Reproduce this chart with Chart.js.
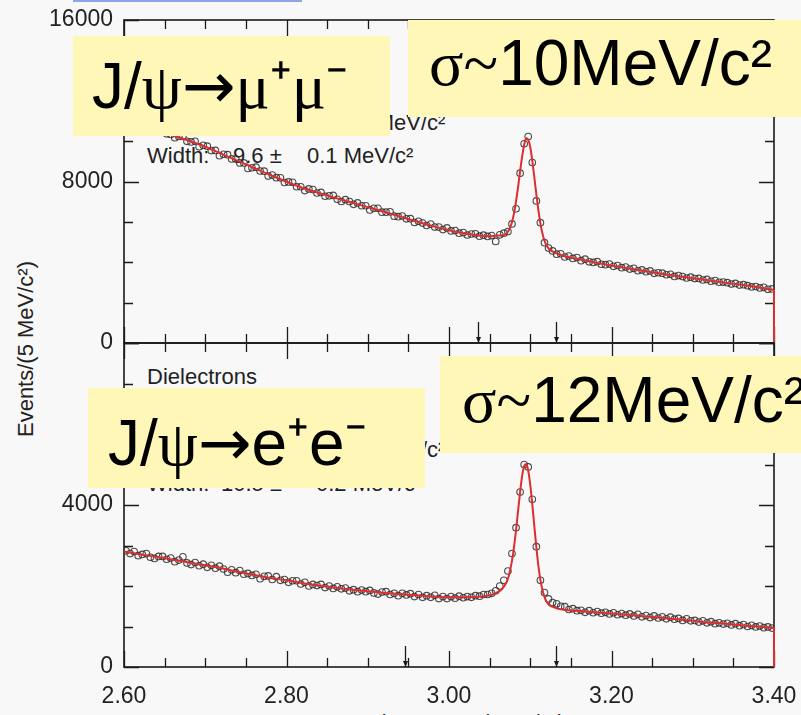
<!DOCTYPE html>
<html>
<head>
<meta charset="utf-8">
<script src="https://cdn.jsdelivr.net/npm/chart.js@4.4.0/dist/chart.umd.min.js"></script>
<style>
  html, body { margin: 0; padding: 0; }
  body {
    width: 801px; height: 715px; overflow: hidden; position: relative;
    background: #f8f8f8;
    font-family: "Liberation Sans", Arial, sans-serif;
  }
  canvas { position: absolute; left: 0; top: 0; z-index: 1; }
  .note { position: absolute; z-index: 0; font-size: 22px; line-height: 22px; color: #222; white-space: pre; }
  .ytitle {
    position: absolute; z-index: 0; left: -124px; top: 338px; width: 300px;
    font-size: 22px; line-height: 22px; color: #222; text-align: center;
    transform: rotate(-90deg);
  }
  .xtitle { position: absolute; left: 124px; width: 650px; top: 712px; font-size: 22px; line-height: 22px; color: #222; text-align: center; }
  .box { position: absolute; z-index: 2; background: #fff7b7; }
  .big { position: absolute; z-index: 3; font-size: 64px; line-height: 64px; color: #000; white-space: nowrap; }
  .gr { font-family: "Liberation Serif", "DejaVu Serif", serif; }
  .arr { font-family: "DejaVu Sans", sans-serif; }
  .link { position: absolute; left: 73px; top: 0; width: 229px; height: 2px; background: #8fa6e6; }
</style>
</head>
<body>
<div class="link"></div>

<!-- fit results printed inside the panels -->
<div class="note" style="left:147px;top:112px">Mass:</div>
<div class="note" style="left:210px;top:112px">3096.9 ±</div>
<div class="note" style="left:339px;top:112px">0.1 MeV/c²</div>
<div class="note" style="left:147px;top:145px">Width:</div>
<div class="note" style="left:233px;top:145px">9.6 ±</div>
<div class="note" style="left:307px;top:145px">0.1 MeV/c²</div>

<div class="note" style="left:147px;top:366px">Dielectrons</div>
<div class="note" style="left:147px;top:439px">Mass:</div>
<div class="note" style="left:210px;top:439px">3093.7 ±</div>
<div class="note" style="left:339px;top:439px">0.1 MeV/c²</div>
<div class="note" style="left:147px;top:473px">Width:</div>
<div class="note" style="left:221px;top:473px">10.5 ±</div>
<div class="note" style="left:316px;top:473px">0.2 MeV/c²</div>

<div class="ytitle">Events/(5 MeV/c²)</div>
<div class="xtitle">Invariant Mass (GeV/c²)</div>

<canvas id="muons" width="801" height="715"></canvas>
<canvas id="electrons" width="801" height="715"></canvas>

<!-- slide annotations -->
<div class="box" style="left:73px;top:36px;width:317px;height:100px"></div>
<div class="big" style="left:92px;top:54px">J/<span class="gr">ψ</span><span class="arr">→</span><span class="gr">μ</span>⁺<span class="gr">μ</span>⁻</div>
<div class="box" style="left:408px;top:20px;width:393px;height:97px"></div>
<div class="big" style="left:429px;top:31px"><span class="gr">σ~</span>10MeV/c²</div>
<div class="box" style="left:88px;top:388px;width:337px;height:100px"></div>
<div class="big" style="left:108px;top:411px">J/<span class="gr">ψ</span><span class="arr">→</span>e⁺e⁻</div>
<div class="box" style="left:440px;top:356px;width:361px;height:97px"></div>
<div class="big" style="left:462px;top:368px"><span class="gr">σ~</span>12MeV/c²</div>

<script>
// J/psi mass spectra, 5 MeV bins from 2.60 to 3.40 GeV/c^2

const BIN_START = 2.60;
const BIN_WIDTH = 0.005;

// events per bin, dimuons (top panel)
const muonCounts = [
  11170, 11000, 11050, 10820, 10830, 10850, 10620, 10510, 10570, 10530,
  10360, 10330, 10170, 10230, 10240, 9990, 9960, 9990, 9720, 9790,
  9750, 9530, 9540, 9280, 9350, 9330, 9120, 9110, 8920, 8920,
  8650, 8680, 8710, 8520, 8510, 8270, 8320, 8190, 8180, 7950,
  7980, 7960, 7740, 7740, 7550, 7630, 7600, 7430, 7460, 7270,
  7290, 7310, 7120, 7010, 7100, 7010, 6870, 6940, 6800, 6800,
  6590, 6670, 6670, 6480, 6480, 6500, 6280, 6260, 6290, 6150,
  6160, 5970, 6030, 5940, 5820, 5890, 5740, 5740, 5620, 5700,
  5550, 5570, 5440, 5470, 5350, 5400, 5410, 5290, 5340, 5280,
  5320, 5030, 5360, 5440, 5520, 5900, 6650, 8410, 9870, 10230,
  8940, 7040, 5960, 4970, 4700, 4560, 4400, 4420, 4260, 4310,
  4190, 4230, 4080, 4150, 4020, 3990, 4030, 3900, 3880, 3910,
  3800, 3840, 3730, 3760, 3660, 3700, 3580, 3620, 3530, 3570,
  3450, 3480, 3460, 3380, 3400, 3300, 3340, 3290, 3220, 3260,
  3190, 3200, 3120, 3150, 3060, 3090, 3010, 3020, 2990, 2920,
  2950, 2870, 2890, 2840, 2780, 2800, 2730, 2760, 2660, 2680
];

// events per bin, dielectrons (bottom panel)
const electronCounts = [
  2870, 2800, 2850, 2750, 2780, 2800, 2710, 2680, 2730, 2730,
  2660, 2690, 2600, 2640, 2720, 2570, 2530, 2580, 2500, 2540,
  2460, 2510, 2440, 2490, 2420, 2340, 2400, 2330, 2380, 2290,
  2310, 2260, 2290, 2180, 2240, 2250, 2160, 2230, 2140, 2160,
  2090, 2130, 2130, 2050, 2090, 2000, 2040, 2010, 2040, 1960,
  2000, 1940, 1980, 1930, 1950, 1880, 1910, 1860, 1900, 1860,
  1890, 1830, 1800, 1850, 1860, 1790, 1820, 1760, 1820, 1780,
  1810, 1740, 1790, 1720, 1760, 1720, 1770, 1690, 1740, 1690,
  1740, 1700, 1750, 1710, 1740, 1720, 1760, 1750, 1790, 1790,
  1820, 1880, 2000, 2140, 2370, 2800, 3440, 4320, 5000, 4940,
  4140, 2970, 2140, 1840, 1680, 1590, 1560, 1500, 1490, 1420,
  1440, 1390, 1400, 1350, 1390, 1340, 1370, 1330, 1350, 1310,
  1340, 1290, 1320, 1280, 1310, 1260, 1300, 1240, 1270, 1220,
  1260, 1210, 1240, 1190, 1230, 1180, 1200, 1150, 1190, 1140,
  1150, 1110, 1140, 1090, 1120, 1070, 1090, 1060, 1080, 1040,
  1070, 1020, 1050, 1000, 1030, 990, 1010, 970, 990, 960
];

// fitted curves (red lines), sampled finer around the peak
const fitMass = [
  2.60, 2.62, 2.64, 2.66, 2.68, 2.70, 2.72, 2.74, 2.76, 2.78,
  2.80, 2.82, 2.84, 2.86, 2.88, 2.90, 2.92, 2.94, 2.96, 2.98,
  3.00, 3.02, 3.04, 3.05, 3.055, 3.06, 3.065, 3.07, 3.0725, 3.075,
  3.0775, 3.08, 3.0825, 3.085, 3.0875, 3.09, 3.0925, 3.095, 3.0975, 3.10,
  3.1025, 3.105, 3.1075, 3.11, 3.1125, 3.115, 3.1175, 3.12, 3.1225, 3.125,
  3.13, 3.135, 3.14, 3.16, 3.18, 3.20, 3.22, 3.24, 3.26, 3.28,
  3.30, 3.32, 3.34, 3.36, 3.38, 3.40
];
const muonFit = [
  11150, 10850, 10560, 10280, 10020, 9720, 9370, 9020, 8670, 8320,
  7990, 7680, 7430, 7190, 6960, 6730, 6500, 6260, 6020, 5790,
  5590, 5420, 5310, 5290, 5300, 5320, 5330, 5400, 5510, 5690,
  5980, 6420, 7000, 7720, 8500, 9230, 9820, 10140, 10070, 9710,
  9030, 8220, 7360, 6580, 5925, 5425, 5074, 4840, 4690, 4600,
  4480, 4400, 4320, 4150, 3990, 3840, 3700, 3570, 3440, 3320,
  3210, 3100, 2990, 2880, 2760, 2630
];
const electronFit = [
  2850, 2780, 2720, 2650, 2580, 2510, 2440, 2350, 2270, 2200,
  2140, 2070, 2010, 1960, 1910, 1870, 1830, 1800, 1770, 1740,
  1720, 1720, 1740, 1770, 1800, 1850, 1920, 2060, 2180, 2370,
  2620, 2960, 3380, 3850, 4320, 4720, 4960, 5010, 4850, 4500,
  4020, 3480, 2960, 2500, 2150, 1900, 1730, 1620, 1550, 1510,
  1470, 1440, 1420, 1380, 1350, 1320, 1290, 1250, 1220, 1180,
  1140, 1100, 1070, 1030, 1000, 960
];

// axes
const massTicks = [2.60, 2.80, 3.00, 3.20, 3.40];
const MASS_MINOR_STEP = 0.05;
const muonYTicks = [0, 8000, 16000];
const MUON_MINOR_STEP = 2000;
const electronYTicks = [0, 4000, 8000];
const ELECTRON_MINOR_STEP = 1000;

// mass window arrows
const muonWindow = [3.036, 3.132];
const electronWindow = [2.946, 3.132];

const FIT_COLOR = '#dc2e2e';
const AXIS_COLOR = '#1a1a1a';
const TEXT_COLOR = '#222';

Chart.defaults.font.family = '"Liberation Sans", Arial, sans-serif';
Chart.defaults.color = TEXT_COLOR;

const binMass = muonCounts.map((_, i) => BIN_START + BIN_WIDTH * (i + 0.5));

function steps(max, step) {
  const out = [];
  for (let k = 0; k * step <= max + 1e-9; k++) out.push(k * step);
  return out;
}

function isMajor(list, v) {
  return list.some(t => Math.abs(t - v) < 1e-6);
}

// frame with inward ticks on all four sides + window arrows
const panelFrame = {
  id: 'panelFrame',
  beforeDatasetsDraw(chart, args, opts) {
    const { ctx, chartArea: a } = chart;
    const xs = chart.scales.x, ys = chart.scales.y;
    ctx.save();
    ctx.strokeStyle = AXIS_COLOR;
    ctx.fillStyle = AXIS_COLOR;
    ctx.lineWidth = 1.6;
    ctx.strokeRect(a.left, a.top, a.right - a.left, a.bottom - a.top);

    ctx.lineWidth = 1.3;
    ctx.beginPath();
    const nMass = Math.round((massTicks[massTicks.length - 1] - massTicks[0]) / MASS_MINOR_STEP);
    for (let k = 0; k <= nMass; k++) {
      const m = massTicks[0] + k * MASS_MINOR_STEP;
      const px = Math.round(xs.getPixelForValue(m)) + 0.5;
      const len = isMajor(massTicks, m) ? 16 : 9;
      ctx.moveTo(px, a.bottom); ctx.lineTo(px, a.bottom - len);
      ctx.moveTo(px, a.top); ctx.lineTo(px, a.top + len);
    }
    steps(opts.max, opts.minorStep).forEach(v => {
      const py = Math.round(ys.getPixelForValue(v)) + 0.5;
      const len = isMajor(opts.major, v) ? 15 : 9;
      ctx.moveTo(a.left, py); ctx.lineTo(a.left + len, py);
      ctx.moveTo(a.right, py); ctx.lineTo(a.right - len, py);
    });
    ctx.stroke();

    opts.window.forEach(m => {
      const px = Math.round(xs.getPixelForValue(m)) + 0.5;
      ctx.beginPath();
      ctx.moveTo(px, a.bottom - 21); ctx.lineTo(px, a.bottom);
      ctx.stroke();
      ctx.beginPath();
      ctx.moveTo(px - 2.5, a.bottom - 6); ctx.lineTo(px + 2.5, a.bottom - 6); ctx.lineTo(px, a.bottom);
      ctx.closePath();
      ctx.fill();
    });
    ctx.restore();
  }
};

function makePanel(id, counts, fit, cfg) {
  const points = counts.map((c, i) => ({ x: binMass[i], y: c }));
  const curve = fitMass.map((m, i) => ({ x: m, y: fit[i] }));
  const last = curve[curve.length - 1];
  const edge = [last, { x: last.x, y: 0 }];

  return new Chart(document.getElementById(id), {
    type: 'line',
    data: {
      datasets: [
        { data: curve, borderColor: FIT_COLOR, borderWidth: 2, pointRadius: 0,
          cubicInterpolationMode: 'monotone', fill: false },
        { data: edge, borderColor: FIT_COLOR, borderWidth: 2, pointRadius: 0,
          tension: 0, fill: false, clip: false },
        { data: points, showLine: false, pointRadius: 3.3, pointBorderWidth: 1.1,
          pointBorderColor: 'rgba(45,45,45,0.85)', pointBackgroundColor: 'rgba(0,0,0,0)' }
      ]
    },
    options: {
      responsive: false,
      animation: false,
      devicePixelRatio: 1,
      layout: { padding: cfg.padding },
      plugins: {
        legend: { display: false },
        tooltip: { enabled: false },
        panelFrame: { max: cfg.max, minorStep: cfg.minorStep, major: cfg.yTicks, window: cfg.window }
      },
      scales: {
        x: {
          type: 'linear', min: massTicks[0], max: massTicks[massTicks.length - 1],
          display: cfg.showMass,
          grid: { display: false, drawTicks: false },
          border: { display: false },
          afterBuildTicks: s => { s.ticks = massTicks.map(v => ({ value: v })); },
          afterFit: s => {
            s.height = cfg.showMass ? 48 : 0;
            s.paddingLeft = 0; s.paddingRight = 0;
          },
          ticks: { autoSkip: false, maxRotation: 0, padding: 16, font: { size: 23 },
                   callback: v => v.toFixed(2) }
        },
        y: {
          min: 0, max: cfg.max,
          grid: { display: false, drawTicks: false },
          border: { display: false },
          afterBuildTicks: s => { s.ticks = cfg.yTicks.map(v => ({ value: v })); },
          afterFit: s => {
            s.width = 124;
            s.paddingTop = 0; s.paddingBottom = 0;
          },
          ticks: { autoSkip: false, padding: 11, font: { size: 23 },
                   callback: v => (cfg.hideLabels.includes(v) ? '' : String(v)) }
        }
      }
    },
    plugins: [panelFrame]
  });
}

makePanel('muons', muonCounts, muonFit, {
  padding: { top: 20, bottom: 372, left: 0, right: 27 },
  max: 16000, minorStep: MUON_MINOR_STEP, yTicks: muonYTicks,
  hideLabels: [], window: muonWindow, showMass: false
});

makePanel('electrons', electronCounts, electronFit, {
  padding: { top: 343, bottom: 0, left: 0, right: 27 },
  max: 8000, minorStep: ELECTRON_MINOR_STEP, yTicks: electronYTicks,
  hideLabels: [8000], window: electronWindow, showMass: true
});
</script>
</body>
</html>
